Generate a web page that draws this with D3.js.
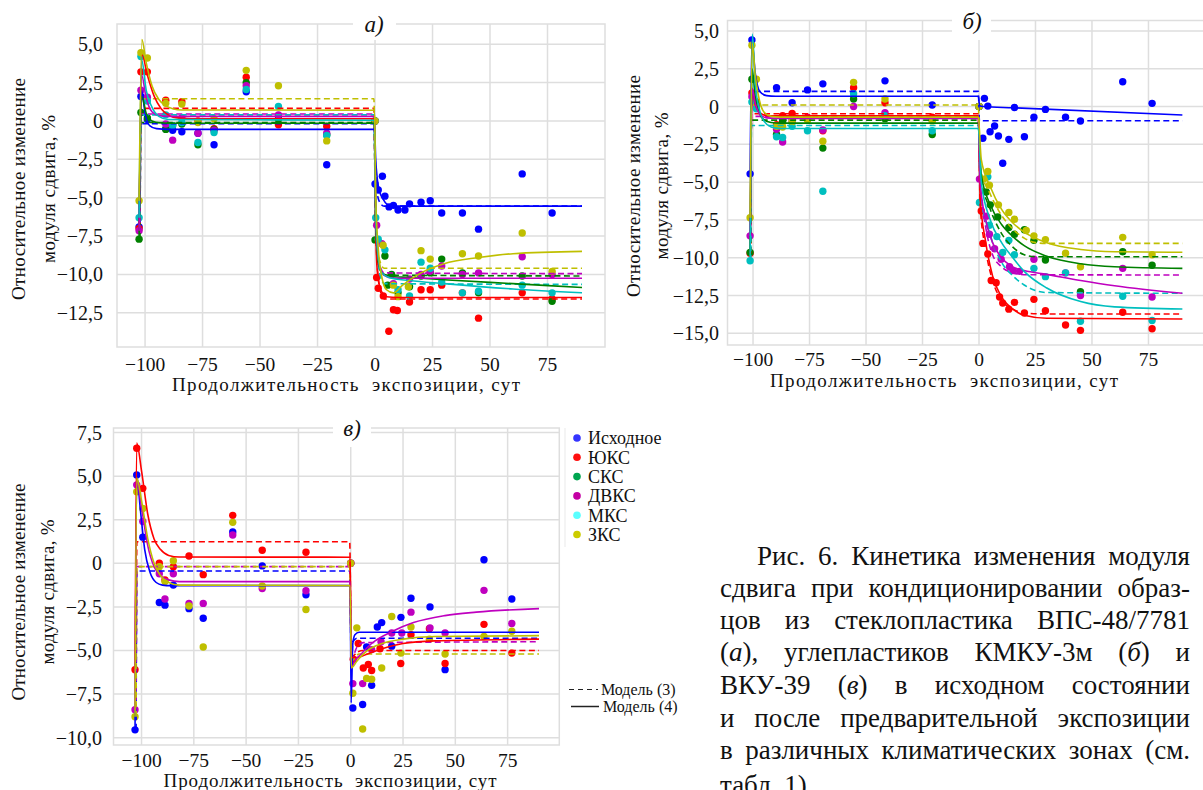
<!DOCTYPE html>
<html>
<head>
<meta charset="utf-8">
<script src="https://d3js.org/d3.v7.min.js"></script>
<style>
  body { margin: 0; background: #fff; }
  svg text { font-family: "Liberation Serif", "Times New Roman", serif; fill: #111; }
</style>
</head>
<body>
<div id="graph"></div>
<script>
// Kinetics of shear modulus change, three panels (a, б, в)

// series names and colours (matplotlib b r g m c y)
const seriesNames = ["Исходное", "ЮКС", "СКС", "ДВКС", "МКС", "ЗКС"];
const seriesColors = ["#0000ff", "#ff0000", "#008000", "#bf00bf", "#00bfbf", "#bfbf00"];
const legendColors = ["#3535ff", "#ff1010", "#00a550", "#c400a4", "#5affff", "#cccc00"];

const xTickValues = [-100, -75, -50, -25, 0, 25, 50, 75];
const yTicksA = [-12.5, -10, -7.5, -5, -2.5, 0, 2.5, 5];
const yTicksB = [-15, -12.5, -10, -7.5, -5, -2.5, 0, 2.5, 5];
const yTicksC = [-10, -7.5, -5, -2.5, 0, 2.5, 5, 7.5];

// ---------- panel a) : ВПС-48/7781 ----------
const aBluePts = [[-102.6,-6.9],[-101.8,1.6],[-99,0.1],[-91,-0.5],[-88,-0.6],[-84,-0.7],[-77,-0.8],[-70,-1.55],[-56,1.9],[-42,0.3],[-21,-2.85],[0,0],
  [0,-4.1],[1.4,-4.5],[3.2,-3.6],[4.3,-4.9],[6.1,-5.6],[8,-5.5],[10,-5.8],[13,-5.8],[15,-5.4],[20,-5.3],[24,-5.2],[29,-6.0],[38,-6.0],[45,-7.05],[64,-3.45],[77,-6.0]];
const aRedPts = [[-102.6,-7.0],[-101.8,3.2],[-99,3.2],[-91,1.35],[-84,1.25],[-77,0.0],[-70,-0.5],[-56,2.85],[-42,-0.25],[-21,-0.35],[0,0],
  [0.7,-10.2],[1.4,-10.9],[3.6,-11.4],[6,-13.7],[8,-12.3],[9.7,-12.35],[15,-11.8],[20,-11.0],[24,-11.0],[29,-10.7],[38,-11.2],[45,-12.85],[64,-11.2],[77,-11.6]];
const aGreenPts = [[-102.6,-7.7],[-101.8,0.55],[-99,0.2],[-91,-0.55],[-88,-0.3],[-84,-0.2],[-77,-1.55],[-70,-0.55],[-56,2.5],[-42,0.1],[-21,-0.9],[0,0],
  [0,-7.75],[4.3,-8.8],[5.5,-10.7],[7.2,-10.0],[10,-11.2],[15,-10.8],[20,-10.1],[24,-9.9],[29,-9.0],[38,-9.9],[45,-11.2],[64,-10.1],[77,-11.75]];
const aMagentaPts = [[-102.6,-7.15],[-101.8,2.0],[-99,1.55],[-91,-0.2],[-88,-1.25],[-84,0.2],[-77,-0.8],[-70,-0.6],[-56,2.3],[-42,0.4],[-21,-0.8],[0,0],
  [0.7,-6.8],[3,-8.0],[8,-10.6],[15,-10.3],[20,-10.0],[24,-9.8],[29,-9.45],[38,-10.0],[45,-9.9],[64,-8.85],[77,-10.0]];
const aCyanPts = [[-102.6,-6.3],[-101.8,4.2],[-99,1.3],[-91,0.4],[-88,-0.3],[-84,-0.1],[-77,-1.4],[-70,-0.75],[-56,2.05],[-42,0.95],[-21,-0.95],[0,0],
  [0.3,-6.3],[1.4,-7.7],[4.3,-8.4],[10,-11.0],[15,-11.4],[20,-9.2],[24,-9.6],[29,-10.5],[38,-11.2],[45,-11.1],[64,-10.7],[77,-11.2]];
const aYellowPts = [[-102.6,-5.2],[-101.8,4.45],[-99,4.1],[-91,1.15],[-84,1.1],[-77,-0.1],[-70,0.15],[-56,3.3],[-42,2.3],[-21,-1.3],[0,0],
  [3.5,-8.1],[8,-10.7],[10,-11.45],[14.5,-10.8],[20,-8.45],[24,-9.0],[38,-8.65],[45,-8.8],[64,-7.3],[77,-9.8]];

// model (4) - solid, model (3) - dashed
const aBlueM4 = [[-102.6,-6.9],[-101.5,2.0],[-100,0.5],[-98,-0.3],[-95,-0.5],[-90,-0.55],[-0.2,-0.55],[0.3,-2.5],[1,-3.8],[2,-4.6],[3.5,-5.1],[5,-5.4],[8,-5.55],[90,-5.55]];
const aBlueM3 = [[-102.2,-6.9],[-101.8,-0.18],[-0.5,-0.18],[0.2,-3],[1,-4.8],[2.5,-5.4],[4,-5.55],[90,-5.55]];
const aRedM4 = [[-102.6,-7.0],[-101.3,4.3],[-99,3.0],[-96,1.6],[-93,0.8],[-90,0.4],[-86,0.2],[-80,0.15],[-0.2,0.15],[0.3,-7],[1,-9.8],[2.5,-11],[5,-11.45],[10,-11.5],[90,-11.5]];
const aRedM3 = [[-102.2,-7.0],[-101.8,0.82],[-0.5,0.82],[0.2,-6],[1,-9.5],[2.5,-11.2],[4,-11.6],[90,-11.6]];
const aGreenM4 = [[-102.6,-7.7],[-101.5,1.6],[-99.5,0.5],[-97,0.0],[-94,-0.12],[-90,-0.15],[-0.2,-0.15],[0.3,-6.5],[1.5,-9.2],[3,-9.9],[6,-10.1],[15,-10.2],[30,-10.35],[60,-10.6],[90,-10.85]];
const aGreenM3 = [[-102.2,-7.7],[-101.8,-0.1],[-0.5,-0.1],[0.2,-6],[1,-8.8],[2.5,-9.8],[4,-10.05],[90,-10.1]];
const aMagentaM4 = [[-102.6,-7.15],[-101.5,3.0],[-99.5,1.5],[-97,0.6],[-94,0.35],[-90,0.3],[-0.2,0.3],[0.3,-6],[1.5,-9],[3,-9.9],[6,-10.2],[10,-10.25],[90,-10.25]];
const aMagentaM3 = [[-102.2,-7.15],[-101.8,0.45],[-0.5,0.45],[0.2,-5.5],[1,-8.5],[2.5,-9.6],[4,-9.9],[90,-9.95]];
const aCyanM4 = [[-102.6,-6.3],[-101.5,4.0],[-99.5,2.0],[-97,0.9],[-94,0.3],[-90,0.1],[-0.2,0.05],[0.3,-6],[1.5,-9],[3,-9.9],[6,-10.2],[15,-10.4],[30,-10.6],[60,-10.95],[90,-11.2]];
const aCyanM3 = [[-102.2,-6.3],[-101.8,0.4],[-0.5,0.4],[0.2,-5.5],[1,-8.8],[2.5,-10.2],[4,-10.6],[90,-10.65]];
const aYellowM4 = [[-102.6,-5.2],[-101.4,5.3],[-99.5,3.8],[-97,2.3],[-94,1.4],[-91,1.0],[-88,0.8],[-84,0.72],[-0.2,0.7],[0.3,-5],[1.5,-8.5],[3,-10.2],[5,-11.0],[8,-11.2],[12,-10.7],[20,-9.9],[30,-9.3],[45,-8.9],[60,-8.65],[90,-8.5]];
const aYellowM3 = [[-102.2,-5.2],[-101.8,1.45],[-0.5,1.45],[0.2,-5],[1,-8.2],[2.5,-9.3],[4,-9.6],[90,-9.6]];

// ---------- panel б) : КМКУ-3м ----------
const bBluePts = [[-101.3,-4.45],[-100.5,4.4],[-89.6,1.25],[-86.9,-0.85],[-82.7,0.25],[-75.9,1.1],[-69.1,1.5],[-41.6,1.7],[-20.7,0.1],[0,0],
  [1.7,-2.1],[2.4,0.54],[3.9,0.03],[4.9,-1.67],[6.9,-1.29],[8.6,-1.95],[10.5,-3.75],[13.2,-2.17],[15.7,-0.06],[20.1,-2.0],[24.3,-0.71],[29.4,-0.19],[38.3,-0.71],[44.9,-0.96],[63.6,1.64],[76.6,0.21]];
const bRedPts = [[-101.3,-9.7],[-100.5,0.9],[-98.5,0.3],[-89.6,-1.2],[-86.9,-0.6],[-82.7,-0.45],[-75.9,-0.7],[-69.1,-1.6],[-55.5,1.25],[-41.6,0.25],[-20.7,-0.7],[0,0],
  [1.0,-6.9],[1.7,-9.05],[3.9,-9.75],[5.4,-11.5],[7.6,-11.65],[9.1,-12.6],[10.5,-13.0],[13.2,-13.4],[15.7,-12.95],[20.1,-13.65],[24.3,-12.75],[29.4,-13.5],[38.3,-14.45],[44.9,-14.8],[63.6,-13.6],[76.6,-14.7]];
const bGreenPts = [[-101.3,-9.65],[-100.5,1.8],[-98.5,0.2],[-89.6,-1.85],[-86.9,-1.0],[-82.7,-0.8],[-75.9,-0.8],[-69.1,-2.75],[-55.5,0.5],[-41.6,-0.8],[-20.7,-1.85],[0,0],
  [3.2,-5.65],[5,-6.5],[8.3,-7.3],[13.2,-8.0],[15.7,-8.45],[20.1,-8.15],[24.3,-8.85],[29.4,-10.15],[44.9,-12.25],[63.6,-9.6],[76.6,-10.5]];
const bMagentaPts = [[-101.3,-8.55],[-100.5,0.65],[-98.5,0.0],[-89.6,-1.5],[-86.9,-2.35],[-82.7,-1.0],[-75.9,-0.75],[-69.1,-1.55],[-55.5,0.0],[-41.6,-0.4],[-20.7,-0.9],[0,0],
  [0.2,-4.8],[3.2,-7.25],[4.6,-8.45],[6.9,-9.4],[9.8,-10.1],[13.5,-10.6],[15,-10.85],[17.9,-10.9],[24.3,-10.1],[38.3,-11.0],[44.9,-12.5],[63.6,-10.7],[76.6,-12.6]];
const bCyanPts = [[-101.3,-10.2],[-100.5,0.3],[-98.5,-0.15],[-89.6,-2.0],[-86.9,-2.05],[-82.7,-1.3],[-75.9,-1.6],[-69.1,-5.6],[-55.5,0.85],[-41.6,-0.6],[-20.7,-1.6],[0,0],
  [0.2,-6.35],[3.9,-4.65],[4.6,-7.85],[7.9,-8.6],[10.5,-9.65],[13.2,-8.85],[15.7,-9.8],[24.3,-10.7],[29.4,-11.25],[38.3,-11.0],[44.9,-14.2],[63.6,-12.55],[76.6,-14.15]];
const bYellowPts = [[-101.3,-7.35],[-100.5,4.05],[-98.5,1.8],[-89.6,-1.3],[-86.9,-1.35],[-82.7,-1.0],[-75.9,-0.9],[-69.1,-2.3],[-55.5,1.6],[-41.6,0.5],[-20.7,-0.95],[0,0],
  [2.1,-4.8],[3.9,-4.3],[4.6,-5.2],[8.6,-6.5],[13.2,-7.0],[15.7,-7.45],[20.9,-8.2],[24.3,-8.55],[29.4,-8.8],[38.3,-9.7],[44.9,-10.6],[63.6,-8.65],[76.6,-9.8]];

const bBlueM4 = [[-101.3,-4.45],[-100.5,4.4],[-99,2.2],[-97,1.0],[-94,0.72],[-90,0.68],[-0.3,0.68],[0.3,0.05],[2,0.0],[15,-0.08],[90,-0.56]];
const bBlueM3 = [[-101,-4.45],[-100.7,1.0],[-0.3,1.0],[0.2,-0.94],[90,-0.94]];
const bRedM4 = [[-101.3,-9.7],[-100.4,1.0],[-99,0.1],[-97,-0.4],[-94,-0.6],[-90,-0.62],[-0.3,-0.62],[0.5,-6],[3,-9],[6,-11.2],[10,-12.6],[15,-13.4],[20,-13.8],[30,-14.0],[90,-14.05]];
const bRedM3 = [[-101,-9.7],[-100.7,-0.48],[-0.3,-0.48],[0.5,-6.5],[3,-9.5],[6,-11.5],[10,-12.8],[15,-13.4],[20,-13.65],[30,-13.72],[90,-13.72]];
const bGreenM4 = [[-101.3,-9.65],[-100.4,2.5],[-99,0.6],[-97,-0.5],[-95,-0.9],[-92,-1.05],[-88,-1.1],[-0.3,-1.1],[1,-4.5],[5,-6.5],[10,-7.8],[15,-8.6],[20,-9.2],[30,-9.9],[45,-10.4],[60,-10.6],[90,-10.7]];
const bGreenM3 = [[-101,-9.65],[-100.7,-0.9],[-0.3,-0.9],[0.5,-4.5],[5,-6.8],[10,-8.4],[15,-9.3],[20,-9.8],[25,-9.93],[90,-9.93]];
const bMagentaM4 = [[-101.3,-8.55],[-100.4,1.2],[-99,0.2],[-97,-0.5],[-94,-0.75],[-90,-0.78],[-0.3,-0.78],[0.5,-5],[3,-7.5],[6,-9],[10,-10],[15,-10.6],[20,-10.85],[30,-11.1],[45,-11.5],[60,-11.85],[90,-12.35]];
const bMagentaM3 = [[-101,-8.55],[-100.7,-0.65],[-0.3,-0.65],[0.5,-5],[3,-8],[6,-9.8],[10,-10.6],[15,-11.0],[20,-11.12],[90,-11.14]];
const bCyanM4 = [[-101.3,-10.2],[-100.3,4.8],[-99,1.5],[-97,-0.3],[-95,-1.0],[-92,-1.35],[-88,-1.45],[-0.3,-1.45],[1,-5],[5,-7.5],[10,-9.0],[15,-10.0],[20,-10.9],[30,-12.0],[45,-12.9],[60,-13.25],[90,-13.39]];
const bCyanM3 = [[-101,-10.2],[-100.7,-1.25],[-0.3,-1.25],[0.5,-5.5],[5,-8.5],[10,-10.3],[15,-11.2],[20,-11.8],[30,-12.3],[90,-12.35]];
const bYellowM4 = [[-101.3,-7.35],[-100.4,4.2],[-99,2.0],[-97,0.3],[-95,-0.4],[-92,-0.65],[-88,-0.7],[-0.3,-0.7],[1,-3.5],[5,-5.3],[10,-6.8],[15,-7.7],[20,-8.3],[30,-9.0],[45,-9.45],[60,-9.6],[90,-9.64]];
const bYellowM3 = [[-101,-7.35],[-100.7,0.1],[-0.3,0.1],[0.5,-4],[5,-5.8],[10,-7.2],[15,-8.1],[20,-8.7],[25,-9.0],[30,-9.05],[90,-9.05]];

// ---------- panel в) : ВКУ-39 (no СКС / МКС) ----------
const cBluePts = [[-103.1,-9.55],[-102.3,5.07],[-99.4,1.5],[-91.5,-2.25],[-88.8,-2.4],[-84.8,-1.25],[-77.3,-2.6],[-70.5,-3.15],[-56.4,1.8],[-42.3,-0.15],[-21.4,-1.8],[0,0],
  [1.0,-8.3],[5.7,-8.1],[7.6,-4.8],[10,-7.0],[12.7,-3.65],[14.8,-3.4],[19.6,-4.75],[24,-3.1],[28.8,-2.0],[37.9,-2.5],[45.1,-6.1],[63.7,0.2],[77,-2.05]];
const cRedPts = [[-103.1,-6.1],[-102.3,6.6],[-99.4,4.3],[-91.5,0.0],[-88.8,-0.95],[-84.8,-0.2],[-77.3,0.42],[-70.5,-0.65],[-56.4,2.75],[-42.3,0.75],[-21.4,0.63],[0,0],
  [1.2,-5.5],[3.6,-4.6],[6.0,-6.0],[8.4,-5.8],[10,-6.15],[14,-4.9],[23.9,-5.75],[28.8,-4.1],[37.6,-3.75],[45.1,-5.75],[63.7,-3.5],[77,-5.15]];
const cMagentaPts = [[-103.1,-8.4],[-102.3,4.5],[-99.4,2.4],[-91.5,-0.6],[-88.8,-2.05],[-84.8,-0.6],[-77.3,-2.3],[-70.5,-2.3],[-56.4,1.62],[-42.3,-1.45],[-21.4,-1.57],[0,0],
  [1.0,-6.9],[5.7,-6.9],[10,-4.95],[14.5,-4.5],[19.6,-4.0],[24.4,-4.0],[28.8,-2.8],[37.9,-3.7],[45.1,-4.0],[63.7,-1.55],[77,-3.45]];
const cYellowPts = [[-103.1,-8.8],[-102.3,4.1],[-99.4,3.15],[-91.5,-0.2],[-88.8,-1.05],[-84.8,0.15],[-77.3,-2.45],[-70.5,-4.8],[-56.4,2.35],[-42.3,-1.3],[-21.4,-2.65],[0,0],
  [1.0,-7.45],[2.9,-3.7],[5.7,-9.5],[7.6,-6.6],[10,-6.65],[14.8,-6.0],[19.6,-3.05],[24,-5.15],[28.8,-3.65],[37.6,-4.35],[45.1,-5.2],[63.7,-4.2],[77,-3.9]];

const cBlueM4 = [[-103.1,-9.55],[-102.3,5.0],[-100.5,3.0],[-98.5,0.8],[-96,-0.5],[-93,-1.1],[-90,-1.25],[-86,-1.28],[-0.3,-1.28],[0.2,-8.0],[1,-4.6],[2,-4.1],[4,-3.95],[90,-3.95]];
const cBlueM3 = [[-102.6,-9.55],[-102.2,-0.44],[-0.5,-0.44],[0.3,-6],[1,-4.5],[3,-4.3],[90,-4.3]];
const cRedM4 = [[-103.1,-6.1],[-102.3,6.9],[-100,5.3],[-97,2.8],[-94,1.4],[-91,0.8],[-87,0.45],[-82,0.36],[-0.3,0.35],[0.3,-5.4],[3,-5.4],[8,-5.2],[15,-4.9],[25,-4.6],[40,-4.45],[90,-4.35]];
const cRedM3 = [[-102.6,-6.1],[-102.2,1.24],[-0.5,1.24],[0.3,-5.4],[3,-5.1],[6,-5.0],[90,-5.0]];
const cMagentaM4 = [[-103.1,-8.4],[-102.3,4.7],[-100,3.2],[-97,1.0],[-94,-0.2],[-91,-0.7],[-87,-0.95],[-82,-1.05],[-0.3,-1.05],[0.3,-6.0],[2,-5.6],[5,-5.2],[10,-4.6],[20,-3.9],[30,-3.4],[45,-3.0],[60,-2.8],[90,-2.6]];
const cMagentaM3 = [[-102.6,-8.4],[-102.2,-0.19],[-0.5,-0.19],[0.3,-5.5],[3,-4.8],[6,-4.55],[90,-4.5]];
const cYellowM4 = [[-103.1,-8.8],[-102.3,4.9],[-100,3.6],[-97,1.4],[-94,0.0],[-91,-0.7],[-87,-1.1],[-82,-1.25],[-0.3,-1.28],[0.3,-6.0],[3,-5.6],[8,-5.0],[15,-4.6],[25,-4.35],[40,-4.2],[90,-4.15]];
const cYellowM3 = [[-102.6,-8.8],[-102.2,-0.19],[-0.5,-0.19],[0.3,-5.6],[4,-5.2],[90,-5.2]];

// caption (underscored parts are italic)
const captionLines = [
  "Рис. 6. Кинетика изменения модуля",
  "сдвига при кондиционировании образ-",
  "цов из стеклопластика ВПС-48/7781",
  "(_а_), углепластиков КМКУ-3м (_б_) и",
  "ВКУ-39 (_в_) в исходном состоянии",
  "и после предварительной экспозиции",
  "в различных климатических зонах (см.",
  "табл. 1)."
];

// ---------- layout ----------
const W = 1203, H = 790;

var panels = [
  { title: "а)", left: 117, right: 605, top: 24, bottom: 347, xDom: [-112.2, 100], yDom: [6.32, -14.73], yTicks: yTicksA,
    titleX: 374, titleBox: [353, 8, 43, 32], tickRight: 103, tickY: 371, xLabelX: 346, xLabelY: 391, xLabelW: 348,
    yLabX: [18, 48], yLabY: 189, yLabW: [222, 148],
    series: [[0, aBluePts, aBlueM3, aBlueM4], [1, aRedPts, aRedM3, aRedM4], [2, aGreenPts, aGreenM3, aGreenM4],
             [3, aMagentaPts, aMagentaM3, aMagentaM4], [4, aCyanPts, aCyanM3, aCyanM4], [5, aYellowPts, aYellowM3, aYellowM4]] },
  { title: "б)", left: 727.5, right: 1207, top: 20.5, bottom: 345, xDom: [-111.3, 100.9], yDom: [5.69, -15.77], yTicks: yTicksB,
    titleX: 972, titleBox: [952, 5, 39, 35], tickRight: 719, tickY: 366, xLabelX: 944, xLabelY: 387, xLabelW: 348,
    yLabX: [633, 661], yLabY: 186, yLabW: [222, 147],
    series: [[0, bBluePts, bBlueM3, bBlueM4], [1, bRedPts, bRedM3, bRedM4], [2, bGreenPts, bGreenM3, bGreenM4],
             [3, bMagentaPts, bMagentaM3, bMagentaM4], [4, bCyanPts, bCyanM3, bCyanM4], [5, bYellowPts, bYellowM3, bYellowM4]] },
  { title: "в)", left: 113.5, right: 559.3, top: 428, bottom: 745, xDom: [-113.4, 99.7], yDom: [7.76, -10.42], yTicks: yTicksC,
    titleX: 352, titleBox: [333, 419, 38, 28], tickRight: 102, tickY: 767, xLabelX: 330, xLabelY: 787, xLabelW: 333,
    yLabX: [18, 47], yLabY: 592, yLabW: [217, 145],
    series: [[0, cBluePts, cBlueM3, cBlueM4], [1, cRedPts, cRedM3, cRedM4],
             [3, cMagentaPts, cMagentaM3, cMagentaM4], [5, cYellowPts, cYellowM3, cYellowM4]] }
];

var fmtY = function(v) {
  if (v === 0) return "0";
  return (v < 0 ? "\u2212" : "") + Math.abs(v).toFixed(1).replace(".", ",");
};
var fmtX = function(v) {
  return (v < 0 ? "\u2212" : "") + Math.abs(v);
};

var svg = d3.select("#graph").append("svg")
  .attr("width", W)
  .attr("height", H);

svg.append("rect").attr("width", W).attr("height", H).attr("fill", "#fff");

var gridColor = "#dedede";

panels.forEach(function(p, pi) {
  var xScale = d3.scaleLinear().domain(p.xDom).range([p.left, p.right]);
  var yScale = d3.scaleLinear().domain(p.yDom).range([p.top, p.bottom]);
  var g = svg.append("g");

  // clip to plot frame
  var clipId = "clip" + pi;
  g.append("clipPath").attr("id", clipId)
    .append("rect")
    .attr("x", p.left).attr("y", p.top)
    .attr("width", p.right - p.left).attr("height", p.bottom - p.top);

  // grid
  g.append("g").selectAll("line")
    .data(xTickValues)
    .enter().append("line")
      .attr("x1", d => xScale(d)).attr("x2", d => xScale(d))
      .attr("y1", p.top).attr("y2", p.bottom)
      .attr("stroke", gridColor).attr("stroke-width", 1.5);
  g.append("g").selectAll("line")
    .data(p.yTicks)
    .enter().append("line")
      .attr("x1", p.left).attr("x2", p.right)
      .attr("y1", d => yScale(d)).attr("y2", d => yScale(d))
      .attr("stroke", gridColor).attr("stroke-width", 1.5);

  // frame
  g.append("rect")
    .attr("x", p.left).attr("y", p.top)
    .attr("width", p.right - p.left).attr("height", p.bottom - p.top)
    .attr("fill", "none").attr("stroke", gridColor).attr("stroke-width", 1.5);

  var plot = g.append("g").attr("clip-path", "url(#" + clipId + ")");

  // data points
  p.series.forEach(function(s) {
    plot.append("g").selectAll("circle")
      .data(s[1])
      .enter().append("circle")
        .attr("cx", d => xScale(d[0]))
        .attr("cy", d => yScale(d[1]))
        .attr("r", 3.7)
        .attr("fill", seriesColors[s[0]]);
  });

  var line = d3.line()
    .x(d => xScale(d[0]))
    .y(d => yScale(d[1]))
    .curve(d3.curveMonotoneX);

  // model (3) dashed
  p.series.forEach(function(s) {
    plot.append("path")
      .attr("d", line(s[2]))
      .attr("fill", "none")
      .attr("stroke", seriesColors[s[0]])
      .attr("stroke-width", 1.6)
      .attr("stroke-dasharray", "6,3.5");
  });
  // model (4) solid
  p.series.forEach(function(s) {
    plot.append("path")
      .attr("d", line(s[3]))
      .attr("fill", "none")
      .attr("stroke", seriesColors[s[0]])
      .attr("stroke-width", 1.6);
  });

  // tick labels
  g.append("g").selectAll("text")
    .data(p.yTicks)
    .enter().append("text")
      .attr("x", p.tickRight)
      .attr("y", d => yScale(d))
      .attr("dy", "0.35em")
      .attr("text-anchor", "end")
      .style("font-size", "20px")
      .text(fmtY);
  g.append("g").selectAll("text")
    .data(xTickValues)
    .enter().append("text")
      .attr("x", d => xScale(d))
      .attr("y", p.tickY)
      .attr("text-anchor", "middle")
      .style("font-size", "19.5px")
      .text(fmtX);

  // axis labels (stretched to the widths seen in the figure)
  g.append("text")
    .attr("x", p.xLabelX - p.xLabelW / 2).attr("y", p.xLabelY)
    .attr("textLength", p.xLabelW)
    .attr("lengthAdjust", "spacing")
    .style("font-size", "19px")
    .style("white-space", "pre")
    .text("Продолжительность  экспозиции, сут");
  ["Относительное изменение", "модуля сдвига, %"].forEach(function(t, i) {
    g.append("text")
      .attr("transform", "translate(" + p.yLabX[i] + "," + (p.yLabY + p.yLabW[i] / 2) + ") rotate(-90)")
      .attr("dy", "0.35em")
      .attr("textLength", p.yLabW[i])
      .attr("lengthAdjust", "spacing")
      .style("font-size", "19px")
      .text(t);
  });

  // panel title in a white box over the top edge
  g.append("rect")
    .attr("x", p.titleBox[0]).attr("y", p.titleBox[1])
    .attr("width", p.titleBox[2]).attr("height", p.titleBox[3])
    .attr("fill", "#fff");
  g.append("text")
    .attr("x", p.titleX).attr("y", p.top + 8)
    .attr("text-anchor", "middle")
    .style("font-size", "23px")
    .style("font-style", "italic")
    .text(p.title);
});

// legend (beside panel в)
var legend = svg.append("g").attr("class", "legend");
legend.append("line")
  .attr("x1", 565).attr("x2", 565).attr("y1", 428).attr("y2", 547)
  .attr("stroke", "#f0f0f0").attr("stroke-width", 1.5);
legend.selectAll("circle")
  .data(seriesNames)
  .enter().append("circle")
    .attr("cx", 577)
    .attr("cy", (d, i) => 438 + i * 19.3)
    .attr("r", 3.8)
    .attr("fill", (d, i) => legendColors[i]);
legend.selectAll("text.name")
  .data(seriesNames)
  .enter().append("text")
    .attr("class", "name")
    .attr("x", 588)
    .attr("y", (d, i) => 438 + i * 19.3)
    .attr("dy", "0.35em")
    .style("font-size", "18px")
    .text(d => d);

legend.append("line")
  .attr("x1", 569).attr("x2", 598).attr("y1", 689.5).attr("y2", 689.5)
  .attr("stroke", "#222").attr("stroke-width", 1.2).attr("stroke-dasharray", "5,4");
legend.append("text")
  .attr("x", 601).attr("y", 689.5).attr("dy", "0.35em")
  .style("font-size", "16px").text("Модель (3)");
legend.append("line")
  .attr("x1", 571).attr("x2", 599).attr("y1", 706.5).attr("y2", 706.5)
  .attr("stroke", "#222").attr("stroke-width", 1.5);
legend.append("text")
  .attr("x", 603).attr("y", 706.5).attr("dy", "0.35em")
  .style("font-size", "16px").text("Модель (4)");

// caption, justified by word spacing
var capLeft = 720, capRight = 1190, capIndent = 37;
var capBase = [565, 597, 629, 661, 694, 727, 759, 794];
captionLines.forEach(function(t, i) {
  var x0 = capLeft + (i === 0 ? capIndent : 0);
  var txt = svg.append("text")
    .attr("x", x0)
    .attr("y", capBase[i])
    .style("font-size", "27px");
  t.split("_").forEach(function(part, k) {
    txt.append("tspan")
      .style("font-style", k % 2 ? "italic" : "normal")
      .text(part);
  });
  if (i < captionLines.length - 1) {
    var natural = txt.node().getComputedTextLength();
    var spaces = (t.match(/ /g) || []).length;
    if (spaces > 0) {
      txt.style("word-spacing", ((capRight - x0 - natural) / spaces) + "px");
    }
  }
});
</script>
</body>
</html>
